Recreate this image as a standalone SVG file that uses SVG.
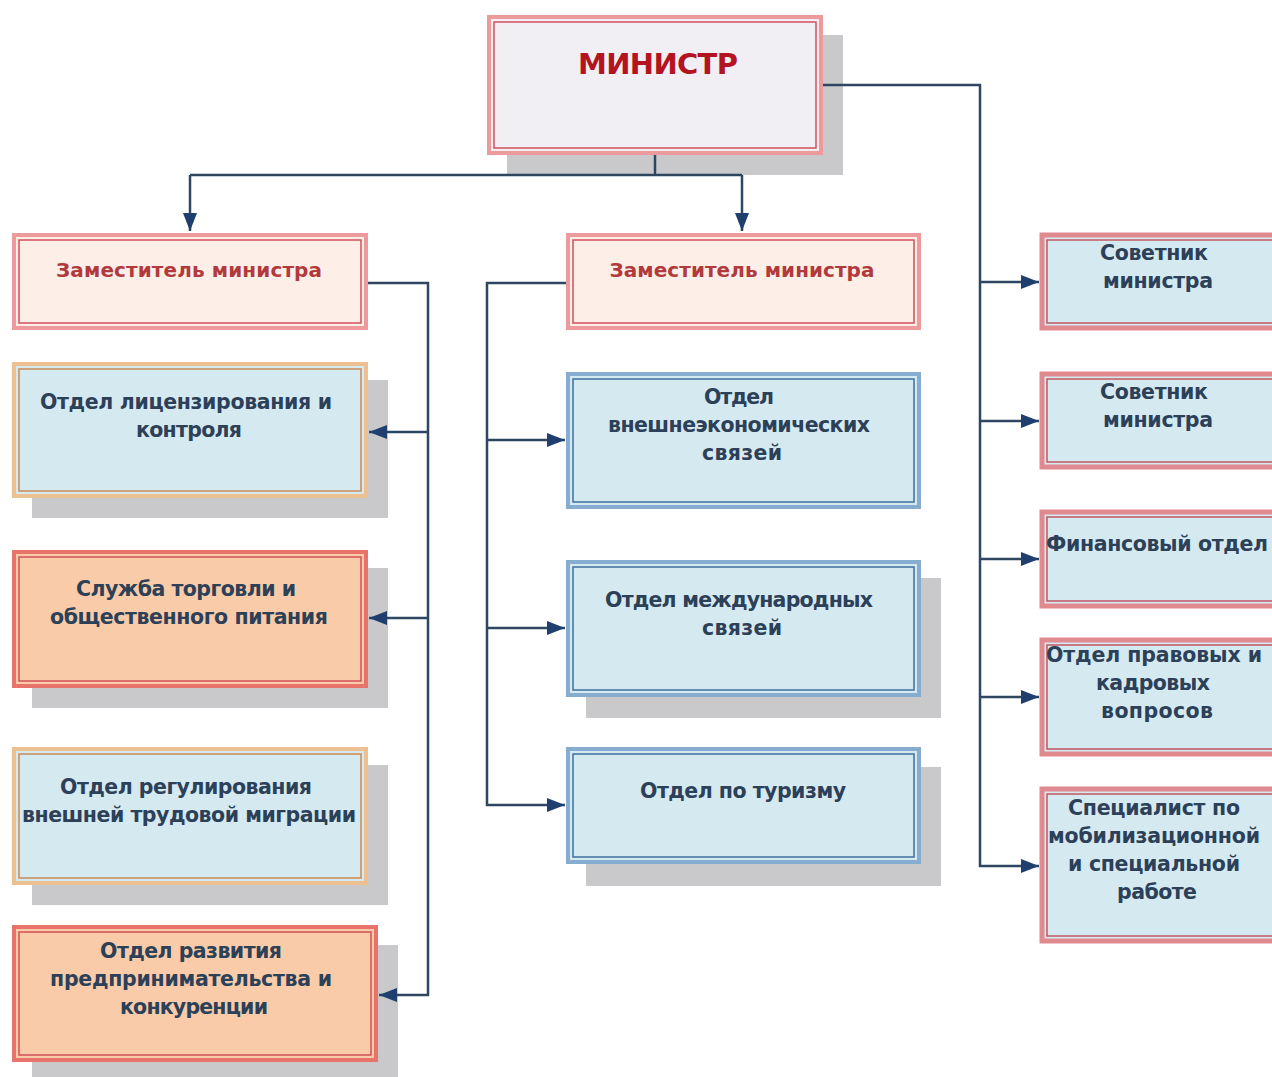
<svg xmlns="http://www.w3.org/2000/svg" width="1272" height="1077" viewBox="0 0 1272 1077">
<defs>
<style>
.t{font-family:"DejaVu Sans","Liberation Sans",sans-serif;font-weight:bold;font-size:20.5px;fill:#2c4058;text-anchor:middle}
.dep{fill:#b23a3c;font-size:20px}
.sh{fill:#c9c9cb}
.blue{fill:#d5e9f1}
.peach{fill:#f9cba8}
.o-red{fill:none;stroke:#ec9a9c;stroke-width:4}
.i-red{fill:none;stroke:#d2505a;stroke-width:1.5}
.o-tan{fill:none;stroke:#ecc091;stroke-width:4}
.i-tan{fill:none;stroke:#c98a55;stroke-width:1.5}
.o-blu{fill:none;stroke:#86acd0;stroke-width:4}
.i-blu{fill:none;stroke:#3f6f9f;stroke-width:1.5}
.o-pk{fill:none;stroke:#e08a90;stroke-width:5}
.i-pk{fill:none;stroke:#c25560;stroke-width:1.5}
.ln{fill:none;stroke:#2f4660;stroke-width:2.5}
</style>
<marker id="ar" markerUnits="userSpaceOnUse" markerWidth="20" markerHeight="14" refX="18" refY="7" orient="auto">
<path d="M0,0 L18,7 L0,14 z" fill="#1f3f6f"/>
</marker>
</defs>
<rect width="1272" height="1077" fill="#ffffff"/>

<g id="minister">
<rect class="sh" x="507" y="35" width="336" height="140"/>
<rect x="487" y="15" width="336" height="140" fill="#f1eff4"/>
<rect class="o-red" x="489" y="17" width="332" height="136"/>
<rect class="i-red" x="494" y="22" width="322" height="126"/>
<text x="658" y="74" style="font-family:'DejaVu Sans','Liberation Sans',sans-serif;font-weight:bold;font-size:29px;fill:#b3141f;text-anchor:middle" textLength="160">МИНИСТР</text>
</g>

<g id="deputy1">
<rect x="12" y="233" width="356" height="97" fill="#fdeee8"/>
<rect class="o-red" x="14" y="235" width="352" height="93"/>
<rect class="i-red" x="19" y="240" width="342" height="83"/>
<text class="t dep" x="189" y="277" textLength="266">Заместитель министра</text>
</g>

<g id="deputy2">
<rect x="566" y="233" width="355" height="97" fill="#fdeee8"/>
<rect class="o-red" x="568" y="235" width="351" height="93"/>
<rect class="i-red" x="573" y="240" width="341" height="83"/>
<text class="t dep" x="742" y="277" textLength="265">Заместитель министра</text>
</g>

<g id="licensing">
<rect class="sh" x="32" y="380" width="356" height="138"/>
<rect class="blue" x="12" y="362" width="356" height="136"/>
<rect class="o-tan" x="14" y="364" width="352" height="132"/>
<rect class="i-tan" x="19" y="369" width="342" height="122"/>
<text class="t" x="186" y="409" textLength="292">Отдел лицензирования и</text>
<text class="t" x="189" y="437" textLength="106">контроля</text>
</g>

<g id="trade">
<rect class="sh" x="32" y="568" width="356" height="140"/>
<rect class="peach" x="12" y="550" width="356" height="138"/>
<rect class="o-red" x="14" y="552" width="352" height="134" style="stroke:#e8736a"/>
<rect class="i-red" x="19" y="557" width="342" height="124"/>
<text class="t" x="186" y="596" textLength="220">Служба торговли и</text>
<text class="t" x="189" y="624" textLength="278">общественного питания</text>
</g>

<g id="migration">
<rect class="sh" x="32" y="765" width="356" height="140"/>
<rect class="blue" x="12" y="747" width="356" height="138"/>
<rect class="o-tan" x="14" y="749" width="352" height="134"/>
<rect class="i-tan" x="19" y="754" width="342" height="124"/>
<text class="t" x="186" y="794" textLength="252">Отдел регулирования</text>
<text class="t" x="189" y="822" textLength="334">внешней трудовой миграции</text>
</g>

<g id="entrepreneurship">
<rect class="sh" x="32" y="945" width="366" height="132"/>
<rect class="peach" x="12" y="925" width="366" height="137"/>
<rect class="o-red" x="14" y="927" width="362" height="133" style="stroke:#e8736a"/>
<rect class="i-red" x="19" y="932" width="352" height="123"/>
<text class="t" x="191" y="958" textLength="182">Отдел развития</text>
<text class="t" x="191" y="986" textLength="282">предпринимательства и</text>
<text class="t" x="194" y="1014" textLength="148">конкуренции</text>
</g>

<g id="foreign-econ">
<rect class="blue" x="566" y="372" width="355" height="137"/>
<rect class="o-blu" x="568" y="374" width="351" height="133"/>
<rect class="i-blu" x="573" y="379" width="341" height="123"/>
<text class="t" x="739" y="404" textLength="70">Отдел</text>
<text class="t" x="739" y="432" textLength="262">внешнеэкономических</text>
<text class="t" x="742" y="460" textLength="80">связей</text>
</g>

<g id="intl">
<rect class="sh" x="586" y="578" width="355" height="140"/>
<rect class="blue" x="566" y="560" width="355" height="137"/>
<rect class="o-blu" x="568" y="562" width="351" height="133"/>
<rect class="i-blu" x="573" y="567" width="341" height="123"/>
<text class="t" x="739" y="607" textLength="268">Отдел международных</text>
<text class="t" x="742" y="635" textLength="80">связей</text>
</g>

<g id="tourism">
<rect class="sh" x="586" y="767" width="355" height="119"/>
<rect class="blue" x="566" y="747" width="355" height="117"/>
<rect class="o-blu" x="568" y="749" width="351" height="113"/>
<rect class="i-blu" x="573" y="754" width="341" height="103"/>
<text class="t" x="743" y="798" textLength="206">Отдел по туризму</text>
</g>

<g id="advisor1">
<rect class="blue" x="1040" y="233" width="240" height="97"/>
<rect class="o-pk" x="1042" y="235" width="240" height="93"/>
<rect class="i-pk" x="1047" y="240" width="240" height="83"/>
<text class="t" x="1154" y="260" textLength="108">Советник</text>
<text class="t" x="1158" y="288" textLength="110">министра</text>
</g>

<g id="advisor2">
<rect class="blue" x="1040" y="372" width="240" height="97"/>
<rect class="o-pk" x="1042" y="374" width="240" height="93"/>
<rect class="i-pk" x="1047" y="379" width="240" height="83"/>
<text class="t" x="1154" y="399" textLength="108">Советник</text>
<text class="t" x="1158" y="427" textLength="110">министра</text>
</g>

<g id="finance">
<rect class="blue" x="1040" y="510" width="240" height="98"/>
<rect class="o-pk" x="1042" y="512" width="240" height="94"/>
<rect class="i-pk" x="1047" y="517" width="240" height="84"/>
<text class="t" x="1157" y="551" textLength="222">Финансовый отдел</text>
</g>

<g id="legal">
<rect class="blue" x="1040" y="638" width="240" height="118"/>
<rect class="o-pk" x="1042" y="640" width="240" height="114"/>
<rect class="i-pk" x="1047" y="645" width="240" height="104"/>
<text class="t" x="1154" y="662" textLength="216">Отдел правовых и</text>
<text class="t" x="1153" y="690" textLength="114">кадровых</text>
<text class="t" x="1157" y="718" textLength="112">вопросов</text>
</g>

<g id="mobilization">
<rect class="blue" x="1040" y="787" width="240" height="156"/>
<rect class="o-pk" x="1042" y="789" width="240" height="152"/>
<rect class="i-pk" x="1047" y="794" width="240" height="142"/>
<text class="t" x="1154" y="815" textLength="172">Специалист по</text>
<text class="t" x="1154" y="843" textLength="212">мобилизационной</text>
<text class="t" x="1154" y="871" textLength="172">и специальной</text>
<text class="t" x="1157" y="899" textLength="80">работе</text>
</g>

<g id="connectors">
<path class="ln" d="M655,155 V175"/>
<path class="ln" d="M190,175 H742"/>
<path class="ln" d="M190,175 V231" marker-end="url(#ar)"/>
<path class="ln" d="M742,175 V231" marker-end="url(#ar)"/>
<path class="ln" d="M823,85 H980 V866 H1039" marker-end="url(#ar)"/>
<path class="ln" d="M980,282 H1039" marker-end="url(#ar)"/>
<path class="ln" d="M980,421 H1039" marker-end="url(#ar)"/>
<path class="ln" d="M980,559 H1039" marker-end="url(#ar)"/>
<path class="ln" d="M980,697 H1039" marker-end="url(#ar)"/>
<path class="ln" d="M368,283 H428 V995 H379" marker-end="url(#ar)"/>
<path class="ln" d="M428,432 H369" marker-end="url(#ar)"/>
<path class="ln" d="M428,618 H369" marker-end="url(#ar)"/>
<path class="ln" d="M566,283 H487 V805 H565" marker-end="url(#ar)"/>
<path class="ln" d="M487,440 H565" marker-end="url(#ar)"/>
<path class="ln" d="M487,628 H565" marker-end="url(#ar)"/>
</g>
</svg>
